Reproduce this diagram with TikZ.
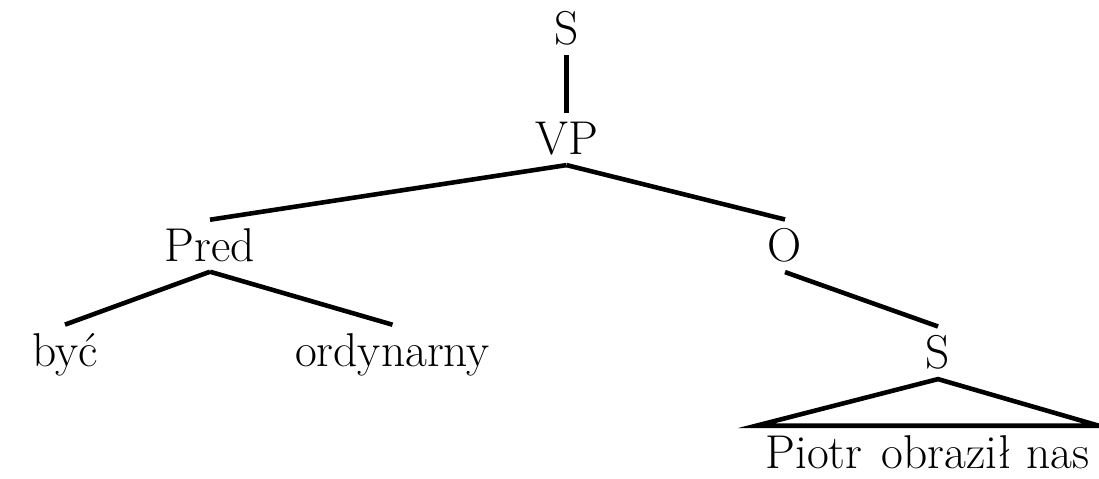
\documentclass[tikz,border=0pt]{standalone}
\usepackage{tikz}

\begin{document}
\begin{tikzpicture}[
    cat/.style={anchor=base, inner sep=0.18cm, font=\fontsize{27}{32}\selectfont},
    branch/.style={line width=2.6pt},
]
\useasboundingbox (0,0) rectangle (21.98,9.56);

\node[cat] (stop) at (11.33,8.66) {S};
\node[cat] (vp) at (11.33,6.46) {VP};
\node[cat] (pred) at (4.2,4.32) {Pred};
\node[cat] (obj) at (15.7,4.32) {O};
\node[cat] (byc) at (1.3,2.22) {być};
\node[cat] (ord) at (7.85,2.22) {ordynarny};
\node[cat] (sbot) at (18.76,2.18) {S};
\node[cat, inner ysep=0.08cm] (phrase) at (18.55,0.2) {Piotr\hspace{0.1cm} obraził nas};

\draw[branch] (stop.south) -- (vp.north);
\draw[branch] (vp.south) -- (pred.north);
\draw[branch] (vp.south) -- (obj.north);
\draw[branch] (pred.south) -- (byc.north);
\draw[branch] (pred.south) -- (ord.north);
\draw[branch] (obj.south) -- (sbot.north);
\draw[branch, line join=miter] (sbot.south) -- ([yshift=0.1cm]phrase.north west) -- ([yshift=0.1cm]phrase.north east) -- cycle;

\end{tikzpicture}
\end{document}
